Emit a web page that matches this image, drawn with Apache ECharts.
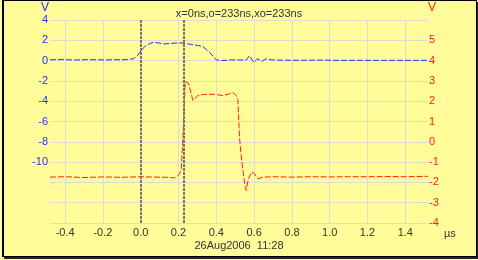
<!DOCTYPE html>
<html>
<head>
<meta charset="utf-8">
<title>Pulse capture</title>
<script src="https://cdn.jsdelivr.net/npm/echarts@6/dist/echarts.min.js"></script>
<style>
  html, body { margin: 0; padding: 0; background: #fffc99; }
  .frame {
    position: absolute;
    left: 2px; top: 0;
    width: 472px; height: 255px;
    border: 1px solid #000;
    border-left-width: 2px;
    box-shadow: 2px 2px 0 #222;
  }
  #chart { position: absolute; left: 0; top: 0; width: 478px; height: 260px; }
</style>
</head>
<body>
<div class="frame"></div>
<div id="chart"></div>
<script>
// time axis ticks (µs)
const timeTicks = [-0.4, -0.2, 0.0, 0.2, 0.4, 0.6, 0.8, 1.0, 1.2, 1.4]
const cursorTimes = [0, 0.233]

// blue trace, left axis (V)
const blueTimes = [-0.48, -0.42, -0.35, -0.28, -0.2, -0.12, -0.07, -0.041, -0.02, -0.005, 0.021, 0.045,
  0.065, 0.09, 0.127, 0.16, 0.197, 0.23, 0.268, 0.3, 0.329, 0.364, 0.4, 0.426, 0.479, 0.53, 0.56,
  0.575, 0.598, 0.619, 0.64, 0.664, 0.69, 0.75, 0.85, 0.95, 1.05, 1.15, 1.25, 1.35, 1.45, 1.52]
const blueVolts = [0.08, 0.1, 0.06, 0.09, 0.07, 0.08, 0.1, 0.17, 0.4, 0.82, 1.38, 1.65,
  1.8, 1.75, 1.64, 1.7, 1.74, 1.72, 1.58, 1.5, 1.38, 0.82, 0.07, 0.0, 0.07, 0.06, 0.08,
  0.49, -0.16, 0.17, -0.07, 0.17, 0.07, 0.04, 0.03, 0.05, 0.02, 0.03, 0.02, 0.03, 0.02, 0.03]

// red trace, right axis (V)
const redTimes = [-0.48, -0.4, -0.3, -0.2, -0.1, 0.0, 0.08, 0.14, 0.18, 0.205, 0.215, 0.223, 0.236,
  0.241, 0.253, 0.276, 0.303, 0.338, 0.391, 0.435, 0.47, 0.487, 0.505, 0.514, 0.523, 0.535, 0.549,
  0.558, 0.57, 0.588, 0.602, 0.619, 0.65, 0.7, 0.8, 0.9, 1.0, 1.1, 1.2, 1.3, 1.4, 1.52]
const redVolts = [-1.74, -1.72, -1.76, -1.73, -1.75, -1.72, -1.74, -1.75, -1.78, -1.6, -1.32, 0.16, 2.97,
  3.02, 2.89, 2.03, 2.28, 2.34, 2.34, 2.28, 2.36, 2.43, 2.28, 2.08, 0.16, -1.0, -1.98,
  -2.39, -1.82, -1.49, -1.57, -1.82, -1.74, -1.72, -1.74, -1.72, -1.73, -1.72, -1.72, -1.71, -1.72, -1.7]

const BLUE = '#2a2aff'
const RED = '#ff2020'
const FONT = 'Liberation Sans, Arial, sans-serif'

const zip = (xs, ys) => xs.map((x, i) => [x, ys[i]])

const chart = echarts.init(document.getElementById('chart'), null, { renderer: 'canvas' })

chart.setOption({
  animation: false,
  textStyle: { fontFamily: FONT },
  title: {
    text: 'x=0ns,o=233ns,xo=233ns',
    left: 'center',
    top: 3,
    textStyle: { fontSize: 11, fontWeight: 'normal', color: '#333', fontFamily: FONT },
  },
  grid: { left: 50, right: 50, top: 20, bottom: 37 },
  xAxis: {
    type: 'value',
    min: -0.48,
    max: 1.52,
    axisLine: { show: false },
    axisTick: { show: false, customValues: timeTicks },
    axisLabel: {
      customValues: timeTicks,
      formatter: (v) => v.toFixed(1),
      color: '#333',
      fontSize: 11,
      margin: 4,
    },
    splitLine: { show: true, lineStyle: { color: '#dcdcd4', width: 1 } },
  },
  yAxis: [
    {
      type: 'value',
      position: 'left',
      min: -16,
      max: 4,
      interval: 2,
      axisLine: { show: false },
      axisTick: { show: false },
      axisLabel: {
        color: BLUE,
        fontSize: 11,
        margin: 2,
        formatter: (v) => (v < -10 ? '' : String(v)),
      },
      splitLine: { show: true, lineStyle: { color: '#dcdcd4', width: 1 } },
    },
    {
      type: 'value',
      position: 'right',
      min: -4,
      max: 6,
      interval: 1,
      axisLine: { show: false },
      axisTick: { show: false },
      axisLabel: {
        color: RED,
        fontSize: 11,
        margin: 1,
        showMaxLabel: false,
      },
      splitLine: { show: false },
    },
  ],
  graphic: [
    {
      type: 'text',
      left: 41,
      top: 2,
      style: { text: 'V', fill: BLUE, fontSize: 12, fontFamily: FONT },
    },
    {
      type: 'text',
      left: 428,
      top: 2,
      style: { text: 'V', fill: RED, fontSize: 12, fontFamily: FONT },
    },
    {
      type: 'text',
      left: 'center',
      top: 240,
      style: { text: '26Aug2006  11:28', fill: '#333', fontSize: 11, fontFamily: FONT },
    },
    {
      type: 'text',
      left: 444,
      top: 228,
      style: { text: 'µs', fill: '#333', fontSize: 11, fontFamily: FONT },
    },
  ],
  series: [
    {
      type: 'line',
      yAxisIndex: 0,
      data: zip(blueTimes, blueVolts),
      symbol: 'none',
      lineStyle: { color: BLUE, width: 1, type: [6, 2] },
      markLine: {
        silent: true,
        symbol: ['none', 'none'],
        label: { show: false },
        lineStyle: { color: '#77776a', width: 2, type: [3, 1] },
        data: cursorTimes.map((t) => ({ xAxis: t })),
      },
      z: 3,
    },
    {
      type: 'line',
      yAxisIndex: 1,
      data: zip(redTimes, redVolts),
      symbol: 'none',
      lineStyle: { color: RED, width: 1, type: [6, 2] },
      z: 4,
    },
  ],
})
</script>
</body>
</html>
